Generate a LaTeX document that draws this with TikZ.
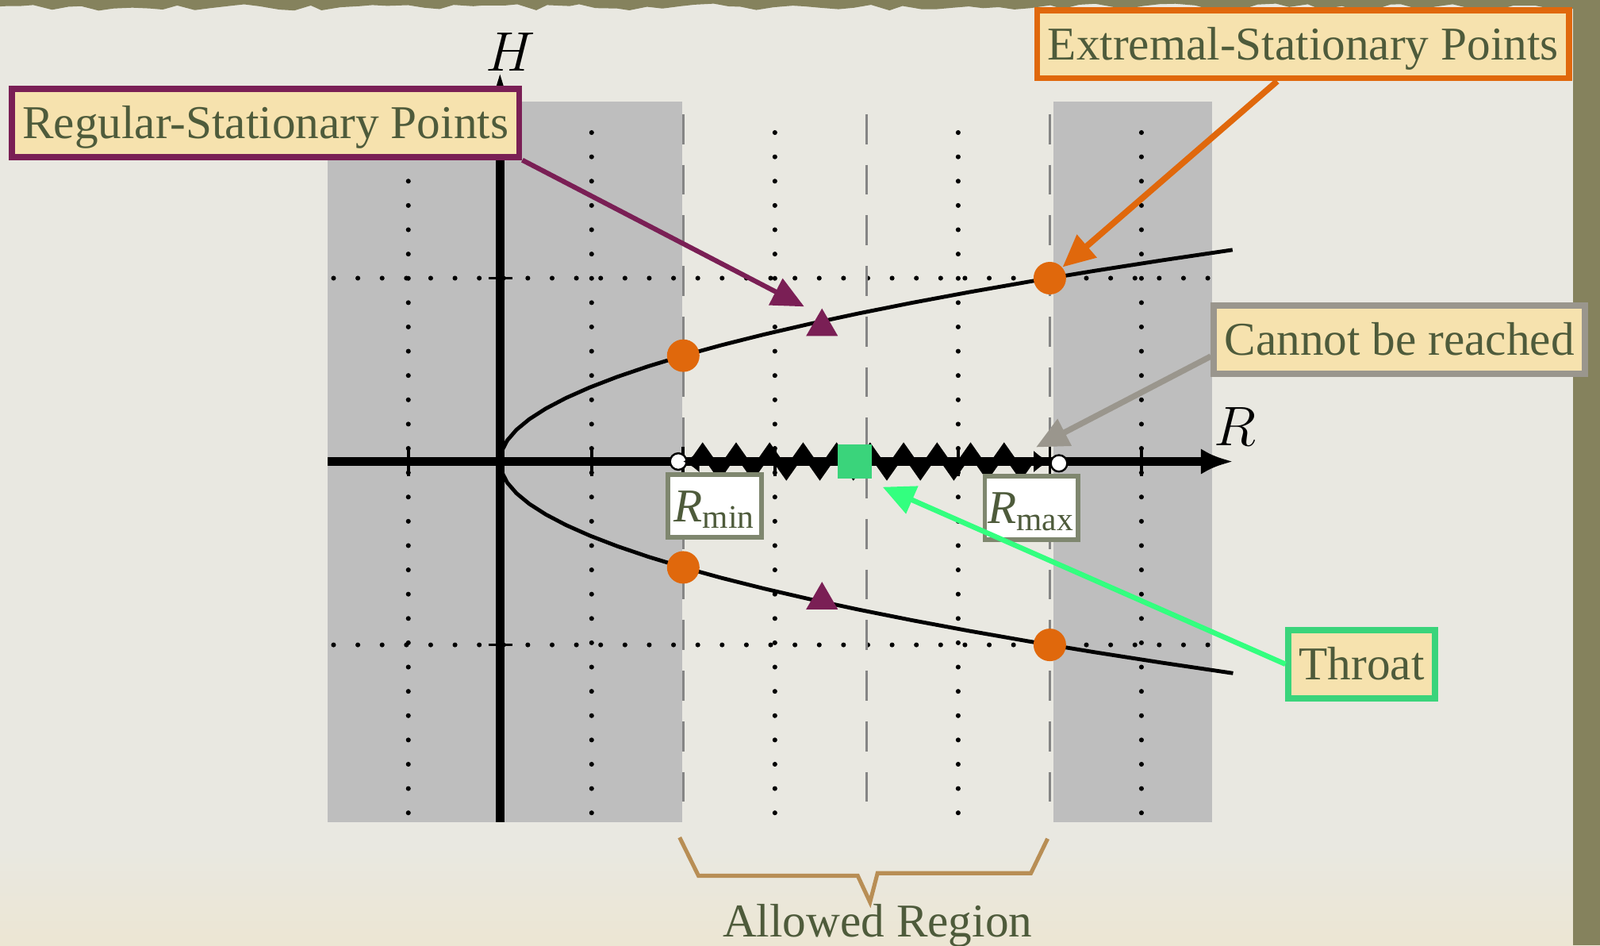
\documentclass[tikz,border=0pt]{standalone}
\usepackage{fontspec}
\setmainfont{Liberation Serif}
\usepackage{xcolor}
\usetikzlibrary{arrows.meta, positioning, shapes.geometric, decorations.pathmorphing, calc}

\definecolor{paperbg}{HTML}{E9E8E1}
\definecolor{paperlow}{HTML}{ECE6D3}
\definecolor{oliveedge}{HTML}{85825D}
\definecolor{shadebg}{HTML}{BEBEBE}
\definecolor{plum}{HTML}{7A1F55}
\definecolor{pumpkin}{HTML}{E0680C}
\definecolor{cream}{HTML}{F6E2AE}
\definecolor{ink}{HTML}{4E5B3B}
\definecolor{stone}{HTML}{9A968D}
\definecolor{jade}{HTML}{3AD47B}
\definecolor{neon}{HTML}{33FF7F}
\definecolor{sage}{HTML}{7F876F}
\definecolor{bracecol}{HTML}{B88E55}
\definecolor{wallgray}{HTML}{858585}

\begin{document}
\begin{tikzpicture}[x=2cm, y=2cm,
	lab/.style={draw, fill=cream, line width=1.9pt, text=ink, font=\fontsize{14.6}{17}\selectfont, inner xsep=3.3pt, inner ysep=5.7pt, text height=9.7pt, text depth=0pt},
	rtag/.style={draw=sage, fill=white, line width=1.4pt, text=ink, font=\fontsize{14.6}{17}\selectfont, inner sep=0pt, text height=9.7pt, text depth=0pt, minimum width=29pt, minimum height=19.6pt},
	extdot/.style={circle, fill=pumpkin, inner sep=0pt, minimum size=0.355cm},
	regtri/.style={regular polygon, regular polygon sides=3, fill=plum, inner sep=0pt, minimum size=0.4cm},
	throatsq/.style={rectangle, fill=jade, inner sep=0pt, minimum size=0.366cm},
	endcap/.style={circle, draw, fill=white, line width=0.6pt, inner sep=0pt, minimum size=0.18cm},
	gridline/.style={line width=1.5pt, line cap=round, dash pattern=on 0pt off 7.54pt},
	wall/.style={draw=wallgray, line width=0.75pt, dash pattern=on 9.3pt off 6.4pt},
	axis/.style={line width=2.6pt, -{Latex[length=10pt,width=8pt]}},
	curve/.style={line width=1.2pt},
	tick/.style={line width=0.9pt},
	pointer/.style={draw=#1, -{Triangle[length=10pt,width=9pt]}},
	axlab/.style={font=\fontsize{16.6}{20}\selectfont}
	]
	\useasboundingbox (-2.728,-2.639) rectangle (6.002,2.517);
	% paper
	\fill[paperbg] (-2.728,-2.639) rectangle (6.002,2.517);
	\shade[top color=paperbg, bottom color=paperlow] (-2.728,-2.639) rectangle (6.002,-2.1);
	\fill[oliveedge] (5.856,-2.639) rectangle (6.002,2.517);
	\fill[oliveedge] decorate[decoration={random steps, segment length=5pt, amplitude=1.1pt}] {(-2.8,2.478) -- (6.1,2.478)} -- (6.1,2.6) -- (-2.8,2.6) -- cycle;
	% forbidden bands
	\fill[shadebg] (-0.939,-1.965) rectangle (0.993,1.965);
	\fill[shadebg] (3.021,-1.965) rectangle (3.887,1.965);
	% grid
	\foreach \x in {-0.5,0.5,1.5,2.5,3.5}{
		\draw[gridline] (\x,-1.916) -- (\x,1.9265);
	}
	\foreach \y in {1,-1}{
		\draw[gridline] (-0.908,\y) -- (3.88,\y);
	}
	\foreach \x in {1,2,3}{
		\draw[wall] (\x,1.894) -- (\x,-1.9);
	}
	% potential
	\draw[curve] plot[domain=-1.1547:1.1547, samples=41] ({3*\x*\x},\x);
	% axes
	\draw[axis] (-0.939,0) -- (4.0,0);
	\draw[axis] (0,-1.965) -- (0,2.12);
	\foreach \x in {-0.5,0.5,1,1.5,2,2.5,3,3.5}{
		\draw[tick] (\x,-0.08) -- (\x,0.08);
	}
	\foreach \y in {1,-1}{
		\draw[tick] (-0.06,\y) -- (0.07,\y);
	}
	\node[axlab] (hlab) at (0.056,2.233) {$H$};
	\node[axlab] (rlab) at (4.009,0.189) {$R$};
	% allowed segment
	\node[endcap] (lend) at (0.973,0) {};
	\node[endcap] (rend) at (3.05,-0.01) {};
	\draw[line width=2.6pt, line join=miter, {Latex[length=5pt,width=7pt]}-{Latex[length=5pt,width=7pt]},
		decorate, decoration={zigzag, segment length=10.4pt, amplitude=3.7pt, pre length=0.12cm, post length=0.12cm}] (1,0) -- (3,0);
	\node[throatsq] (thr) at (1.936,0) {};
	% stationary points
	\node[extdot] (ex1) at (1,0.5774) {};
	\node[extdot] (ex2) at (1,-0.5774) {};
	\node[extdot] (ex3) at (3,1) {};
	\node[extdot] (ex4) at (3,-1) {};
	\node[regtri] (reg1) at (1.757,0.735) {};
	\node[regtri] (reg2) at (1.757,-0.756) {};
	% bounds
	\node[rtag] (rmin) at (1.172,-0.242) {\textit{R}\textsubscript{min}};
	\node[rtag] (rmax) at (2.90,-0.253) {\textit{R}\textsubscript{max}};
	% labels
	\node[lab, draw=plum] (regbox) at (-1.279,1.846) {Regular-Stationary Points};
	\node[lab, draw=pumpkin] (extbox) at (4.382,2.276) {Extremal-Stationary Points};
	\node[lab, draw=stone] (cannotbox) at (4.908,0.664) {Cannot be reached};
	\node[lab, draw=jade] (throatbox) at (4.702,-1.105) {Throat};
	\coordinate (regtip) at (1.66,0.845);
	\coordinate (cantip) at (2.925,0.078);
	\coordinate (thrtip) at (2.088,-0.139);
	\draw[pointer=plum, line width=1.5pt] (regbox.south east) -- (regtip);
	\draw[pointer=pumpkin, line width=1.9pt] (extbox.235) -- (ex3);
	\draw[pointer=stone, line width=1.8pt] (cannotbox.185) -- (cantip);
	\draw[pointer=neon, line width=1.6pt] (throatbox.west) -- (thrtip);
	% allowed region brace
	\draw[bracecol, line width=1.25pt] (0.980,-2.050) -- (1.083,-2.259) -- (1.952,-2.259) -- (2.019,-2.403) -- (2.060,-2.245) -- (2.897,-2.245) -- (2.988,-2.057);
	\node[text=ink, font=\fontsize{14.6}{17}\selectfont, anchor=base] (allowed) at (2.06,-2.592) {Allowed Region};
\end{tikzpicture}
\end{document}
